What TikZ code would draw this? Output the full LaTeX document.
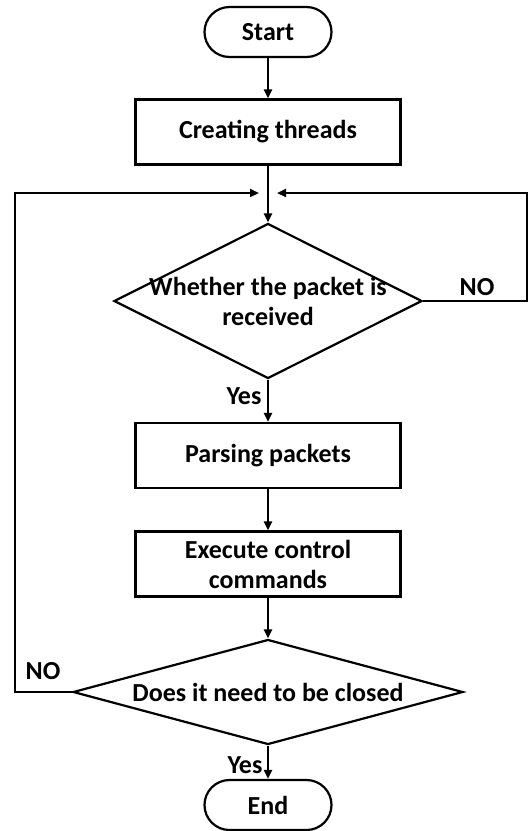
\documentclass[tikz,border=0pt]{standalone}
\usepackage{fontspec}
\setmainfont{Carlito}
\usetikzlibrary{positioning, shapes.geometric, arrows.meta}

\begin{document}
\begin{tikzpicture}[x=0.5pt, y=-0.5pt]
    % Styles
    \tikzstyle{every node} = [font=\fontsize{13}{15}\selectfont\bfseries]
    \tikzstyle{terminal} = [draw, line width=1.1pt, rounded corners=12.5pt, minimum width=63.5pt, minimum height=25pt]
    \tikzstyle{process} = [draw, line width=1.1pt, minimum width=132.5pt, minimum height=32.5pt, align=center]
    \tikzstyle{decision} = [draw, diamond, line width=1.1pt, inner sep=0pt, align=center]
    \tikzstyle{edge} = [-{Triangle[length=4.5pt, width=4pt]}, line width=1.1pt]

    \useasboundingbox (0,0) rectangle (531,831);

    % Nodes
    \node[terminal] (start) at (268, 32) {Start};
    \node[process] (create) at (268, 132) {Creating threads};
    \coordinate (join) at (268, 193);
    \node[decision, minimum width=154pt, minimum height=77.5pt, shape aspect=2, inner sep=-10pt] (received) at (268, 301) {Whether the packet is\\received};
    \node[process] (parse) at (268, 455.5) {Parsing packets};
    \node[process] (execute) at (268, 564) {Execute control\\commands};
    \node[decision, minimum width=195pt, minimum height=52.5pt, shape aspect=3.7] (closed) at (268, 692) {Does it need to be closed};
    \node[terminal] (stop) at (268, 805) {End};

    % Corners of the loops
    \coordinate (left top) at (15, 193);
    \coordinate (right top) at (527, 193);

    % Branch texts
    \node (no received) at (477, 287) {NO};
    \node (yes received) at (244, 396) {Yes};
    \node (no closed) at (43, 671) {NO};
    \node (yes closed) at (245, 765) {Yes};

    % Edges
    \draw[edge] (start) -- (create);
    \draw[edge] (create) -- (received);
    \draw[edge] (received) -- (parse);
    \draw[edge] (parse) -- (execute);
    \draw[edge] (execute) -- (closed);
    \draw[edge] (closed) -- (stop);
    \draw[edge, shorten >=4.5pt] (received.east) -| (right top) -- (join);
    \draw[edge, shorten >=4.5pt] (closed.west) -| (left top) -- (join);
\end{tikzpicture}
\end{document}
